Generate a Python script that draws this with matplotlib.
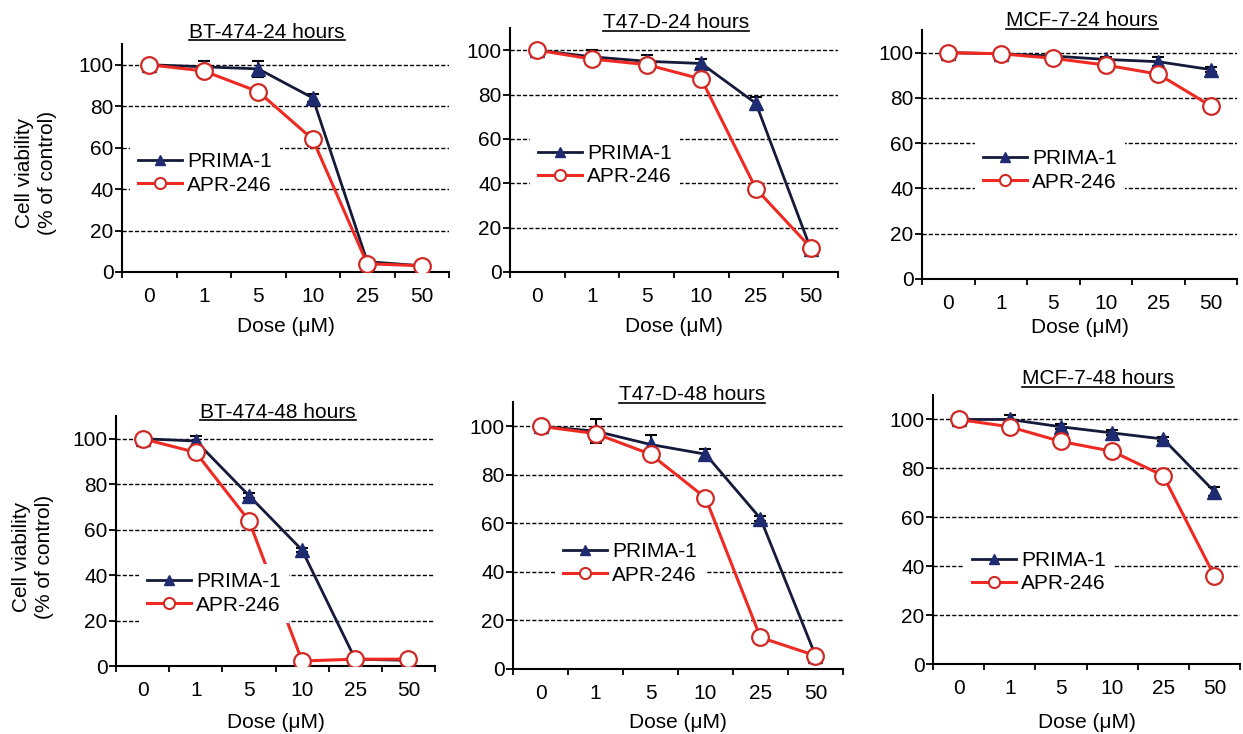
import numpy as np
import matplotlib.pyplot as plt
from matplotlib.lines import Line2D

plt.rcParams['font.family'] = ['Liberation Sans', 'DejaVu Sans']

# Data (cell viability, % of control)
doses = ['0', '1', '5', '10', '25', '50']
titles = ['BT-474-24 hours', 'T47-D-24 hours', 'MCF-7-24 hours',
          'BT-474-48 hours', 'T47-D-48 hours', 'MCF-7-48 hours']

prima_bt474_24 = [100, 99, 98, 84, 5, 3]
apr_bt474_24 = [100, 97, 87, 64, 4, 3]
prima_t47d_24 = [100, 97, 95, 94, 76, 10.5]
apr_t47d_24 = [100, 96, 93.5, 87, 37.5, 11]
prima_mcf7_24 = [100, 99.5, 98.5, 97, 96, 92.5]
apr_mcf7_24 = [100, 99.5, 97.5, 94.5, 90.5, 76.5]
prima_bt474_48 = [100, 99, 75, 51, 3, 2.5]
apr_bt474_48 = [100, 94, 64, 2.2, 3, 3]
prima_t47d_48 = [100, 98, 92.5, 88.5, 62, 5.5]
apr_t47d_48 = [100, 97, 88.5, 70.5, 13, 5.5]
prima_mcf7_48 = [100, 100, 97, 94.5, 92, 70.5]
apr_mcf7_48 = [100, 97, 91, 87, 77, 36]

# error bars (upper SD)
err_bt474_24 = [0, 3, 4, 2, 1, 0]
err_t47d_24 = [0, 3, 3, 2, 3, 1]
err_mcf7_24 = [0, 1, 1, 1, 2, 1]
err_bt474_48 = [0, 2, 1, 1, 0, 0]
err_t47d_48 = [0, 5, 4, 2, 1, 0]
err_mcf7_48 = [0, 2, 1, 1, 1, 2]
apr_err_bt474_24 = [0, 0, 0, 3, 0, 0]

prima_all = [prima_bt474_24, prima_t47d_24, prima_mcf7_24,
             prima_bt474_48, prima_t47d_48, prima_mcf7_48]
apr_all = [apr_bt474_24, apr_t47d_24, apr_mcf7_24,
           apr_bt474_48, apr_t47d_48, apr_mcf7_48]
err_all = [err_bt474_24, err_t47d_24, err_mcf7_24,
           err_bt474_48, err_t47d_48, err_mcf7_48]
apr_err_all = [apr_err_bt474_24, [0] * 6, [0] * 6, [0] * 6, [0] * 6, [0] * 6]

# layout in pixels (left, right, top, bottom)
W, H = 1243, 734
boxes = [(122, 449, 44, 272), (510, 838, 28, 272), (922, 1237, 30, 279),
         (116, 435, 416, 666), (513, 843, 402, 669), (933, 1240, 395, 664)]
title_pos = [(267, 32), (676, 23), (1082, 21), (278, 412), (692, 395), (1098, 379)]
xlabel_y = [327, 327, 328, 722, 722, 723]
legend_pos = [(130, 173.5), (530, 165), (975, 170.5),
              (139, 593.5), (555, 563.5), (964, 572)]

navy_line = '#15193a'
navy = '#1f2b70'
red = '#ee2a22'
red_edge = '#cf2a24'

fig = plt.figure(figsize=(W / 100, H / 100), dpi=100)

title_texts = []
x = np.arange(6) + 0.5

for i in range(6):
    l, r, t, b = boxes[i]
    ax = fig.add_axes([l / W, 1 - b / H, (r - l) / W, (b - t) / H])

    ax.errorbar(x, prima_all[i], yerr=err_all[i], color=navy_line, lw=2,
                marker='^', ms=10, mfc=navy, mec=navy,
                ecolor='black', elinewidth=1.5, capsize=4, capthick=1.5,
                zorder=3)
    ax.errorbar(x, apr_all[i], yerr=apr_err_all[i], color=red, lw=2.2,
                marker='o', ms=12, mfc='white', mec=red_edge, mew=1.6,
                ecolor='black', elinewidth=1.5, capsize=4, capthick=1.5,
                zorder=4)

    ax.set_xlim(0, 6)
    ax.set_ylim(0, 110)
    ax.set_yticks(range(0, 101, 20))
    ax.set_xticks(range(7))
    ax.set_xticklabels([])
    ax.set_xticks(x, minor=True)
    ax.set_xticklabels(doses, minor=True)
    ax.tick_params(axis='x', which='minor', length=0, pad=11, labelsize=15)
    ax.tick_params(axis='x', which='major', length=4.5, width=1.3)
    ax.tick_params(axis='y', length=5, width=1.3, pad=1, labelsize=15)
    for s in ['top', 'right']:
        ax.spines[s].set_visible(False)
    for s in ['left', 'bottom']:
        ax.spines[s].set_linewidth(1.5)
    ax.yaxis.grid(True, linestyle=(0, (3, 1.5)), color='black', lw=1)
    ax.set_axisbelow(True)

    handles = [
        Line2D([], [], color=navy_line, lw=2, marker='^', ms=7,
               mfc=navy, mec=navy),
        Line2D([], [], color=red, lw=2.2, marker='o', ms=8,
               mfc='white', mec=red_edge, mew=1.5),
    ]
    lx, ly = legend_pos[i]
    ax.legend(handles, ['PRIMA-1', 'APR-246'], loc='center left',
              bbox_to_anchor=(lx / W, 1 - ly / H),
              bbox_transform=fig.transFigure, fontsize=15,
              frameon=True, facecolor='white', edgecolor='none',
              framealpha=1, fancybox=False, handlelength=2.1,
              handletextpad=0.25, labelspacing=0.2, borderpad=0.4,
              borderaxespad=0)

    tx, ty = title_pos[i]
    title_texts.append(fig.text(tx / W, 1 - ty / H, titles[i], fontsize=15,
                                ha='center', va='center'))
    fig.text((l + r) / 2 / W, 1 - xlabel_y[i] / H, 'Dose (\u03bcM)',
             fontsize=15, ha='center', va='center')

# y axis labels, left column only
for xc, yc in [(36, 173), (33, 557)]:
    fig.text(xc / W, 1 - yc / H, 'Cell viability\n(% of control)',
             rotation=90, ha='center', va='center', fontsize=15,
             linespacing=1.3)

# underline the titles
fig.canvas.draw()
renderer = fig.canvas.get_renderer()
for t in title_texts:
    bb = t.get_window_extent(renderer)
    yy = (bb.y0 + 2) / H
    fig.add_artist(Line2D([bb.x0 / W, bb.x1 / W], [yy, yy], color='black',
                          lw=1.2, transform=fig.transFigure))

fig.savefig('out.png', dpi=100)
